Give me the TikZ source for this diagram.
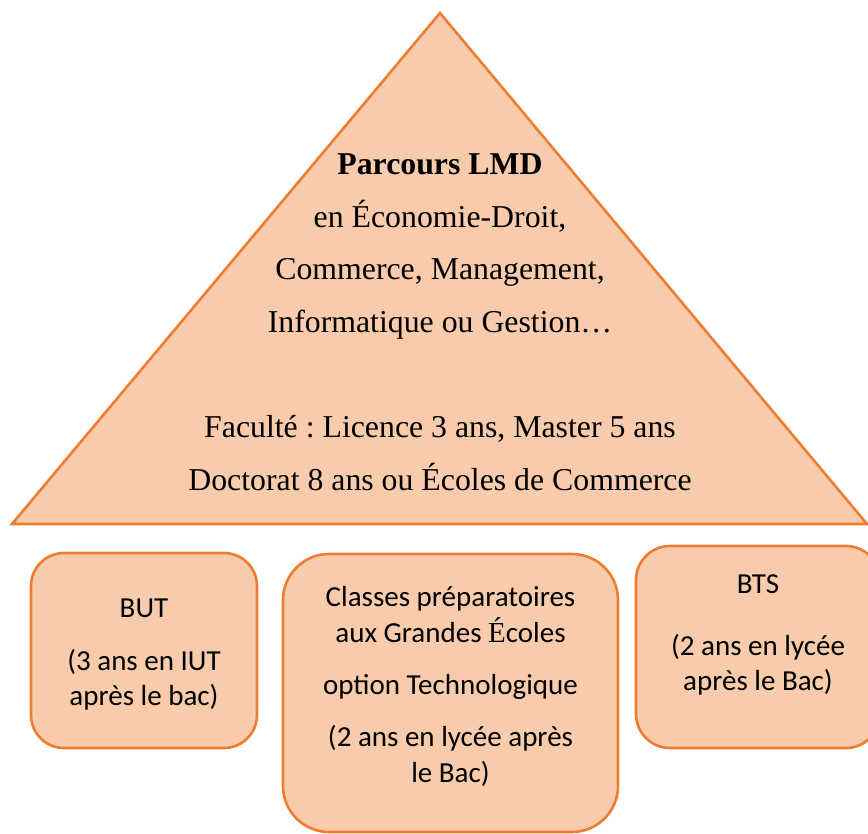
\documentclass[tikz,border=0pt]{standalone}
\usepackage{fontspec}
\setmainfont{Liberation Serif}
\newfontfamily\calibri{Carlito}
\definecolor{ofill}{HTML}{F8CBAD}
\definecolor{oline}{HTML}{ED7D31}
\frenchspacing
\begin{document}
\begin{tikzpicture}[x=1pt,y=-1pt,
  shapeline/.style={draw=oline, fill=ofill, line width=2.6pt},
  boxshape/.style={shapeline, rounded corners=#1, inner sep=0pt, outer sep=0pt},
  tritxt/.style={font=\frenchspacing\fontsize{31.8}{38}\selectfont, anchor=base, inner sep=0pt},
  boxtxt/.style={font=\frenchspacing\calibri\fontsize{29}{35}\selectfont, anchor=base, inner sep=0pt}]
\useasboundingbox (0,0) rectangle (868,834);
% pyramid
\coordinate (apex) at (440,13);
\coordinate (bl) at (12,524);
\coordinate (br) at (867,524);
\draw[shapeline, line join=miter] (apex) -- (br) -- (bl) -- cycle;
\node[tritxt] (t1) at (440,175) {\textbf{Parcours LMD}};
\node[tritxt] (t2) at (440,228) {en Économie-Droit,};
\node[tritxt] (t3) at (440,280) {Commerce, Management,};
\node[tritxt] (t4) at (440,333) {Informatique ou Gestion…};
\node[tritxt] (t5) at (440,437) {Faculté : Licence 3 ans, Master 5 ans};
\node[tritxt] (t6) at (440,490) {Doctorat 8 ans ou Écoles de Commerce};
% boxes
\node[boxshape=33pt, minimum width=226pt, minimum height=195pt] (butbox) at (144,650.5) {};
\node[boxshape=46pt, minimum width=335pt, minimum height=278pt] (cpgebox) at (450.5,693) {};
\node[boxshape=34pt, minimum width=244pt, minimum height=202pt] (btsbox) at (758,647) {};
% left box text
\node[boxtxt] (b1) at (144,617) {BUT};
\node[boxtxt] (b2) at (144,670) {(3 ans en IUT};
\node[boxtxt] (b3) at (144,705) {après le bac)};
% middle box text
\node[boxtxt] (c1) at (450.5,606) {Classes préparatoires};
\node[boxtxt] (c2) at (450.5,642) {aux Grandes {\rmfamily É}coles};
\node[boxtxt] (c3) at (450.5,694) {option Technologique};
\node[boxtxt] (c4) at (450.5,746) {(2 ans en lycée après};
\node[boxtxt] (c5) at (450.5,782) {le Bac)};
% right box text
\node[boxtxt] (s1) at (758,593) {BTS};
\node[boxtxt] (s2) at (758,655) {(2 ans en lycée};
\node[boxtxt] (s3) at (758,690) {après le Bac)};
\end{tikzpicture}
\end{document}
